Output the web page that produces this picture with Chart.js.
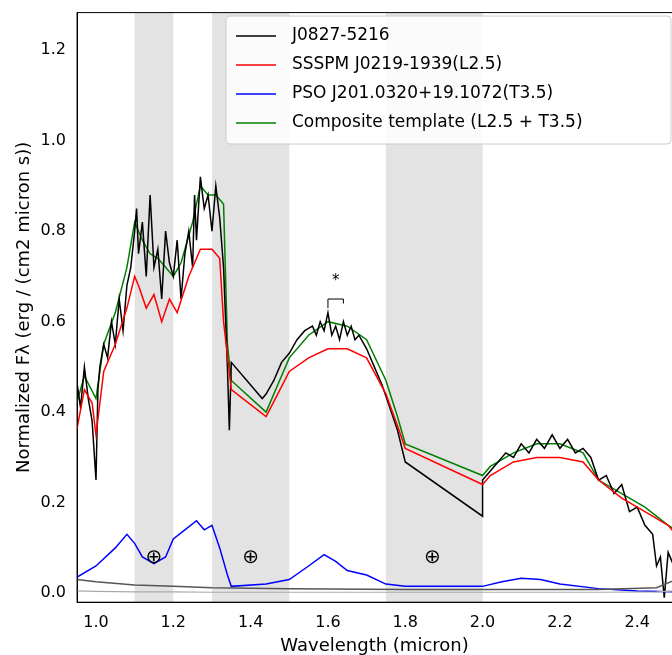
<!DOCTYPE html>
<html><head><meta charset="utf-8">
<script src="https://cdn.jsdelivr.net/npm/chart.js@4/dist/chart.umd.min.js"></script>
<style>body{margin:0;background:#fff}#wrap{width:672px;height:655px}</style>
</head><body><div id="wrap"><canvas id="c"></canvas></div>
<script>
// spectra
const objX = [0.95,0.96,0.97,0.98,0.99,1.0,1.005,1.01,1.02,1.03,1.04,1.05,1.06,1.07,1.08,1.09,1.10,1.105,1.11,1.12,1.13,1.14,1.15,1.16,1.17,1.18,1.19,1.20,1.21,1.22,1.23,1.24,1.25,1.255,1.26,1.27,1.28,1.29,1.30,1.31,1.32,1.33,1.34,1.345,1.35,1.43,1.44,1.46,1.48,1.50,1.52,1.54,1.56,1.57,1.58,1.59,1.60,1.61,1.62,1.63,1.64,1.65,1.66,1.67,1.68,1.70,1.72,1.74,1.76,1.78,1.80,2.0,2.0,2.02,2.04,2.06,2.08,2.10,2.12,2.14,2.16,2.18,2.20,2.22,2.24,2.26,2.28,2.30,2.32,2.34,2.36,2.38,2.40,2.42,2.44,2.45,2.46,2.47,2.48,2.50];
const objY = [0.47,0.41,0.50,0.43,0.38,0.25,0.45,0.50,0.55,0.52,0.60,0.55,0.65,0.58,0.68,0.72,0.80,0.85,0.75,0.82,0.70,0.88,0.72,0.76,0.65,0.80,0.73,0.70,0.78,0.65,0.75,0.80,0.72,0.88,0.78,0.92,0.85,0.88,0.80,0.90,0.83,0.72,0.50,0.36,0.51,0.43,0.44,0.47,0.51,0.53,0.56,0.58,0.59,0.57,0.60,0.58,0.62,0.57,0.59,0.56,0.60,0.57,0.59,0.56,0.57,0.54,0.50,0.46,0.41,0.36,0.29,0.17,0.25,0.27,0.29,0.31,0.30,0.33,0.31,0.34,0.32,0.35,0.32,0.34,0.31,0.32,0.30,0.25,0.26,0.22,0.24,0.18,0.19,0.15,0.13,0.06,0.08,-0.01,0.09,0.05];
const lX = [0.95,0.97,0.99,1.0,1.02,1.05,1.08,1.10,1.11,1.13,1.15,1.17,1.19,1.21,1.24,1.27,1.30,1.32,1.33,1.35,1.44,1.47,1.50,1.55,1.60,1.65,1.70,1.75,1.78,1.80,2.00,2.02,2.08,2.14,2.20,2.26,2.30,2.36,2.42,2.48,2.50];
const lY = [0.36,0.45,0.42,0.35,0.49,0.55,0.63,0.70,0.68,0.63,0.66,0.60,0.65,0.62,0.70,0.76,0.76,0.74,0.60,0.45,0.39,0.44,0.49,0.52,0.54,0.54,0.52,0.44,0.37,0.32,0.24,0.26,0.29,0.30,0.30,0.29,0.25,0.21,0.18,0.15,0.13];
const compX = [0.95,0.97,1.0,1.02,1.05,1.08,1.10,1.12,1.14,1.16,1.18,1.20,1.22,1.25,1.27,1.29,1.31,1.33,1.34,1.35,1.44,1.47,1.50,1.55,1.60,1.65,1.70,1.75,1.78,1.80,2.00,2.02,2.08,2.14,2.20,2.26,2.30,2.36,2.42,2.48,2.50];
const compY = [0.42,0.48,0.43,0.55,0.62,0.72,0.82,0.78,0.75,0.74,0.72,0.70,0.73,0.82,0.90,0.88,0.88,0.86,0.55,0.47,0.40,0.46,0.52,0.57,0.60,0.59,0.56,0.47,0.39,0.33,0.26,0.28,0.31,0.33,0.33,0.31,0.25,0.22,0.19,0.15,0.14];
const tX = [0.95,1.0,1.05,1.08,1.10,1.12,1.15,1.18,1.20,1.23,1.26,1.28,1.30,1.32,1.34,1.35,1.44,1.50,1.55,1.59,1.62,1.65,1.70,1.75,1.80,2.00,2.05,2.10,2.15,2.20,2.30,2.40,2.50];
const tY = [0.035,0.06,0.10,0.13,0.11,0.08,0.065,0.08,0.12,0.14,0.16,0.14,0.15,0.10,0.04,0.015,0.02,0.03,0.06,0.085,0.07,0.05,0.04,0.02,0.015,0.015,0.025,0.033,0.03,0.02,0.01,0.005,0.003];
const noiseX = [0.95,1.0,1.1,1.2,1.3,1.5,1.8,2.0,2.3,2.45,2.5];
const noiseY = [0.03,0.025,0.018,0.015,0.012,0.01,0.008,0.008,0.008,0.012,0.03];
const noise2Y = [0.005,0.004,0.003,0.003,0.002,0.002,0.002,0.002,0.002,0.003,0.005];
const bands = [[1.1,1.2],[1.3,1.5],[1.75,2.0]];
const tellX = [1.15,1.4,1.87];
const xTicks = [1.0,1.2,1.4,1.6,1.8,2.0,2.2,2.4];
const yTicks = [0,0.2,0.4,0.6,0.8,1.0,1.2];
const names = ['J0827-5216','SSSPM J0219-1939(L2.5)','PSO J201.0320+19.1072(T3.5)','Composite template (L2.5 + T3.5)'];
const colors = ['#000000','#ff0000','#0000ff','#008000'];

const pts = (xs, ys) => xs.map((x, i) => ({x: x, y: ys[i]}));

const extras = {
    id: 'extras',
    beforeDatasetsDraw(chart) {
        const {ctx, chartArea: a, scales: {x, y}} = chart;
        ctx.save();
        ctx.fillStyle = 'rgba(200,200,200,0.5)';
        bands.forEach(b => ctx.fillRect(x.getPixelForValue(b[0]), a.top, x.getPixelForValue(b[1]) - x.getPixelForValue(b[0]), a.bottom - a.top));
        ctx.restore();
    },
    afterDraw(chart) {
        const {ctx, chartArea: a, scales: {x, y}} = chart;
        ctx.save();
        ctx.strokeStyle = '#000'; ctx.lineWidth = 1;
        ctx.strokeRect(a.left, a.top, a.right - a.left + 5, a.bottom - a.top);
        ctx.font = '20px DejaVu Sans'; ctx.fillStyle = '#000';
        ctx.textAlign = 'center'; ctx.textBaseline = 'middle';
        tellX.forEach(t => ctx.fillText('\u2295', x.getPixelForValue(t), y.getPixelForValue(0.078)));
        // bracket with asterisk
        const x1 = x.getPixelForValue(1.6), x2 = x.getPixelForValue(1.64), yb = y.getPixelForValue(0.65);
        ctx.beginPath();
        ctx.moveTo(x1, y.getPixelForValue(0.63)); ctx.lineTo(x1, yb); ctx.lineTo(x2, yb); ctx.lineTo(x2, y.getPixelForValue(0.64));
        ctx.stroke();
        ctx.font = '15px DejaVu Sans';
        ctx.fillText('*', (x1 + x2) / 2, y.getPixelForValue(0.69));
        // legend
        const lx = 226, ly = 16, lw = 445, lh = 128;
        ctx.fillStyle = 'rgba(255,255,255,0.85)';
        ctx.strokeStyle = '#ccc';
        ctx.beginPath(); ctx.roundRect(lx, ly, lw, lh, 4); ctx.fill(); ctx.stroke();
        ctx.font = '17px DejaVu Sans'; ctx.textAlign = 'left';
        names.forEach((n, i) => {
            const yy = ly + 20 + i * 29;
            ctx.strokeStyle = colors[i]; ctx.lineWidth = 1.5;
            ctx.beginPath(); ctx.moveTo(lx + 10, yy); ctx.lineTo(lx + 50, yy); ctx.stroke();
            ctx.fillStyle = '#000'; ctx.fillText(n, lx + 66, yy);
        });
        ctx.restore();
    }
};

const ds = (d, c, w) => ({data: d, borderColor: c, borderWidth: w, pointRadius: 0, fill: false, tension: 0});

new Chart(document.getElementById('c'), {
    type: 'line',
    data: {
        datasets: [
            ds(pts(noiseX, noiseY), '#555', 1.5),
            ds(pts(noiseX, noise2Y), '#aaa', 1.2),
            ds(pts(tX, tY), colors[2], 1.5),
            ds(pts(lX, lY), colors[1], 1.5),
            ds(pts(objX, objY), colors[0], 1.5),
            ds(pts(compX, compY), colors[3], 1.5)
        ]
    },
    options: {
        responsive: true, maintainAspectRatio: false, animation: false,
        layout: {padding: {top: -6, right: 0, left: 12, bottom: -2}},
        plugins: {legend: {display: false}, tooltip: {enabled: false}},
        scales: {
            x: {type: 'linear', min: 0.951, max: 2.49,
                grid: {display: false},
                border: {color: '#000'},
                afterBuildTicks: s => { s.ticks = xTicks.map(v => ({value: v})); },
                ticks: {color: '#000', font: {size: 16, family: 'DejaVu Sans'}, callback: v => v.toFixed(1)},
                title: {display: true, text: 'Wavelength (micron)', color: '#000', font: {size: 18, family: 'DejaVu Sans'}, padding: 0}},
            y: {min: -0.02, max: 1.283,
                grid: {display: false},
                border: {color: '#000'},
                afterBuildTicks: s => { s.ticks = yTicks.map(v => ({value: v})); },
                ticks: {color: '#000', font: {size: 16, family: 'DejaVu Sans'}, callback: v => v.toFixed(1)},
                title: {display: true, text: 'Normalized F\u03bb (erg / (cm2 micron s))', color: '#000', font: {size: 18, family: 'DejaVu Sans'}, padding: 2}}
        }
    },
    plugins: [extras]
});
</script></body></html>
